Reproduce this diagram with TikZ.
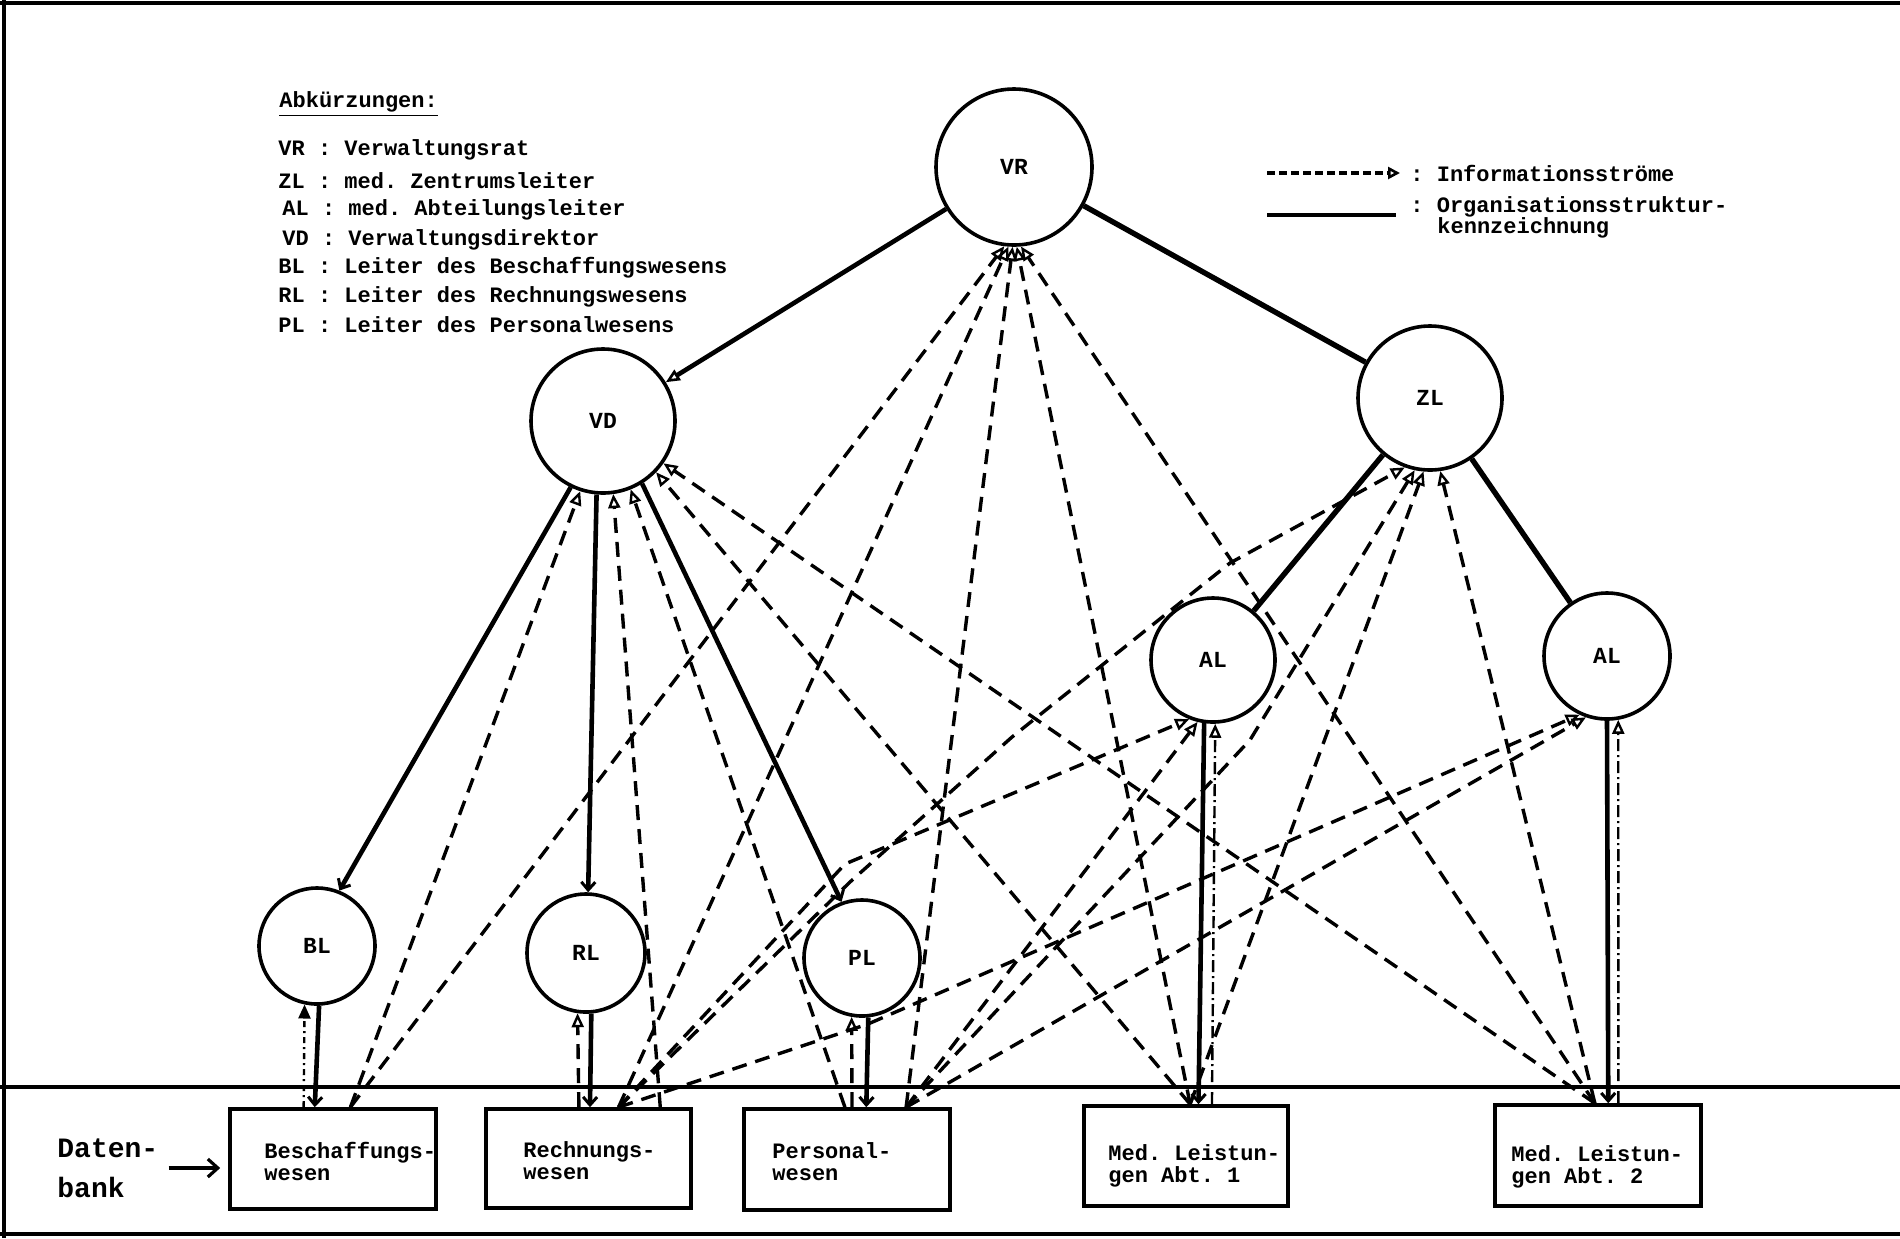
\documentclass[tikz,border=0pt]{standalone}
\usepackage{fontspec}
\newfontfamily\tw{Liberation Mono}
\usetikzlibrary{arrows.meta,calc}
\frenchspacing
\begin{document}
\frenchspacing
\begin{tikzpicture}[x=0.5pt,y=-0.5pt,
  lead/.style={circle,draw,line width=1.8pt,inner sep=0pt,font=\tw\bfseries\fontsize{11.5}{12}\selectfont},
  dbox/.style={rectangle,draw,line width=1.8pt,inner sep=0pt},
  txt/.style={inner sep=0pt,anchor=west,align=left,font=\tw\bfseries\fontsize{11}{11}\selectfont},
  bigtxt/.style={inner sep=0pt,anchor=west,align=left,font=\tw\bfseries\fontsize{14}{20}\selectfont},
  info/.style={line width=1.7pt,dash pattern=on 7.5pt off 4.5pt,-{Triangle[open,length=7pt,width=6pt,line width=1.2pt]}},
  infodot/.style={line width=1.2pt,dash pattern=on 6pt off 2pt on 1pt off 2pt,-{Triangle[open,length=7pt,width=6pt,line width=1.2pt]}},
  infofill/.style={line width=1.2pt,dash pattern=on 3pt off 2pt on 1pt off 2pt,-{Triangle[length=7pt,width=6pt]}},
  legdash/.style={line width=2pt,dash pattern=on 4pt off 2pt,-{Triangle[open,length=6pt,width=6pt,line width=1.3pt]}},
  org/.style={line width=2.3pt},
  orgtip/.style={org,-{Straight Barb[length=4pt,width=7pt,line width=1.5pt]}},
  orgopen/.style={org,-{Triangle[open,length=7pt,width=6pt,line width=1.3pt]}},
  frame/.style={line width=1.8pt},
]
\useasboundingbox (0,0) rectangle (1900,1238);
% frame
\draw[frame] (0,3) -- (1900,3);
\draw[frame] (4,0) -- (4,1238);
\draw[frame] (0,1234) -- (1900,1234);
\draw[frame] (0,1087) -- (1900,1087);

% legend left
\node[txt] (abk) at (279,104) {\underline{Abkürzungen:}};
\node[txt] (lVR) at (278,150) {VR : Verwaltungsrat};
\node[txt] (lZL) at (278,181) {ZL : med. Zentrumsleiter};
\node[txt] (lAL) at (282,210) {AL : med. Abteilungsleiter};
\node[txt] (lVD) at (282,240) {VD : Verwaltungsdirektor};
\node[txt] (lBL) at (278,268) {BL : Leiter des Beschaffungswesens};
\node[txt] (lRL) at (278,297) {RL : Leiter des Rechnungswesens};
\node[txt] (lPL) at (278,325) {PL : Leiter des Personalwesens};

% legend right
\coordinate (lia) at (1267,173);
\coordinate (lib) at (1400,173);
\draw[legdash] (lia) -- (lib);
\node[txt] (lit) at (1410,173) {: Informationsströme};
\coordinate (loa) at (1267,215);
\coordinate (lob) at (1396,215);
\draw[line width=2.4pt] (loa) -- (lob);
\node[txt] (lot) at (1410,207) {: Organisationsstruktur-};
\node[txt] (lok) at (1437,228) {kennzeichnung};

% leaders
\node[lead,minimum size=78pt] (VR) at (1014,167) {VR};
\node[lead,minimum size=72pt] (VD) at (603,421) {VD};
\node[lead,minimum size=72pt] (ZL) at (1430,398) {ZL};
\node[lead,minimum size=62pt] (AL1) at (1213,660) {AL};
\node[lead,minimum size=63pt] (AL2) at (1607,656) {AL};
\node[lead,minimum size=58pt] (BL) at (317,946) {BL};
\node[lead,minimum size=59pt] (RL) at (586,953) {RL};
\node[lead,minimum size=58pt] (PL) at (862,958) {PL};

% database boxes
\node[dbox,minimum width=103pt,minimum height=50pt] (B1) at (333,1159) {};
\node[dbox,minimum width=102.5pt,minimum height=49.5pt] (B2) at (588.5,1158.5) {};
\node[dbox,minimum width=103pt,minimum height=50.5pt] (B3) at (847,1159.5) {};
\node[dbox,minimum width=102pt,minimum height=50pt] (B4) at (1186,1156) {};
\node[dbox,minimum width=103pt,minimum height=50.5pt] (B5) at (1598,1155.5) {};
\node[txt] (t1) at (264,1161) {Beschaffungs-\\wesen};
\node[txt] (t2) at (523,1161) {Rechnungs-\\wesen};
\node[txt] (t3) at (772,1162) {Personal-\\wesen};
\node[txt] (t4) at (1108,1166) {Med. Leistun-\\gen Abt. 1};
\node[txt] (t5) at (1511,1167) {Med. Leistun-\\gen Abt. 2};

\node[bigtxt] (dat) at (57,1168) {Daten-\\bank};
\draw[line width=1.8pt,-{Straight Barb[length=5pt,width=9pt,line width=1.6pt]},shorten >=4pt] ([xshift=5pt]dat.east) -- (dat.east -| B1.west);

% attachment points on the boxes
\coordinate (b1c) at ($(B1.north west)!.583!(B1.north east)$);
\coordinate (b1s) at ($(B1.north west)!.413!(B1.north east)$);
\coordinate (b1d) at ($(B1.north west)!.36!(B1.north east)$);
\coordinate (b2c) at ($(B2.north west)!.644!(B2.north east)$);
\coordinate (b2s) at ($(B2.north west)!.507!(B2.north east)$);
\coordinate (b2d) at ($(B2.north west)!.454!(B2.north east)$);
\coordinate (b2v) at ($(B2.north west)!.844!(B2.north east)$);
\coordinate (b3c) at ($(B3.north west)!.782!(B3.north east)$);
\coordinate (b3s) at ($(B3.north west)!.592!(B3.north east)$);
\coordinate (b3d) at ($(B3.north west)!.524!(B3.north east)$);
\coordinate (b3v) at ($(B3.north west)!.49!(B3.north east)$);
\coordinate (b4c) at ($(B4.north west)!.52!(B4.north east)$);
\coordinate (b4s) at ($(B4.north west)!.56!(B4.north east)$);
\coordinate (b4d) at ($(B4.north west)!.625!(B4.north east)$);
\coordinate (b5c) at ($(B5.north west)!.485!(B5.north east)$);
\coordinate (b5s) at ($(B5.north west)!.549!(B5.north east)$);
\coordinate (b5d) at ($(B5.north west)!.597!(B5.north east)$);
% bends
\coordinate (k1a) at (850,882);
\coordinate (k1b) at (1012,737);
\coordinate (k1c) at (1230,563);
\coordinate (k2) at (845,864);
\coordinate (k3) at (1250,740);
\coordinate (k4) at (868,1024);

% organisation structure
\draw[orgopen] (VR) -- (VD);
\draw[org,line width=2.7pt] (VR) -- (ZL);
\draw[org,line width=2.7pt] (ZL) -- (AL1);
\draw[org,line width=2.7pt] (ZL) -- (AL2);
\draw[orgtip] (VD.244) -- (BL.68);
\draw[orgtip] (VD.265) -- (RL.88);
\draw[orgtip] (VD.302) -- (PL.110);
\draw[orgtip] (BL.272) -- (b1s);
\draw[orgtip] (RL.275) -- (b2s);
\draw[orgtip] (PL.276) -- (b3s);
\draw[orgtip] (AL1.262) -- (b4s);
\draw[orgtip] (AL2.270) -- (b5s);

% information flows
\draw[info] (b1c) -- (VR.263);
\draw[info] (b2c) -- (VR.266);
\draw[info] (b3c) -- (VR.269);
\draw[info] (b4c) -- (VR.272);
\draw[info] (b5c) -- (VR.275);
\draw[info] (b1c) -- (VD.252);
\draw[info] (b2v) -- (VD.278);
\draw[info] (b3v) -- (VD.292);
\draw[info] (b4c) -- (VD.316);
\draw[info] (b5c) -- (VD.325);
\draw[infofill] (b1d) -- (BL.258);
\draw[info] (b2d) -- (RL.262);
\draw[info] (b3d) -- (PL.260);
\draw[info] (b2c) -- (k1a) -- (k1b) -- (k1c) -- (ZL.250);
\draw[info] (b3c) -- (k3) -- (ZL.258);
\draw[info] (b4c) -- (ZL.265);
\draw[info] (b5c) -- (ZL.278);
\draw[info] (b2c) -- (k2) -- (AL1.248);
\draw[info] (b3c) -- (AL1.256);
\draw[infodot] (b4d) -- (AL1.272);
\draw[info] (b2c) -- (k4) -- (AL2.245);
\draw[info] (b3c) -- (AL2.251);
\draw[infodot] (b5d) -- (AL2.280);
\end{tikzpicture}
\end{document}
